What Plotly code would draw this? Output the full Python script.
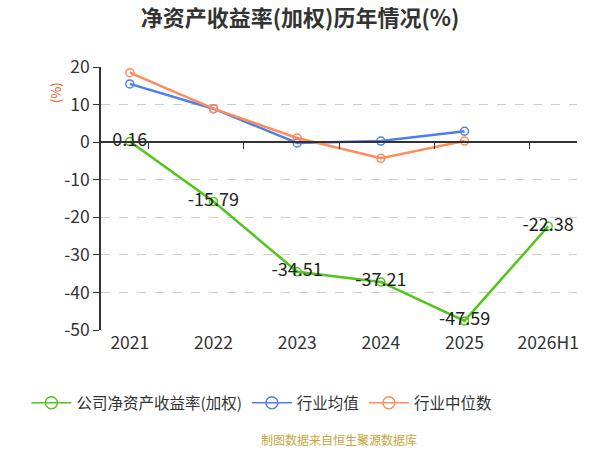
import plotly.graph_objects as go

years = ['2021', '2022', '2023', '2024', '2025', '2026H1']
roe_company = [0.16, -15.79, -34.51, -37.21, -47.59, -22.38]
roe_mean = [15.5, 8.9, -0.2, 0.3, 2.9]
roe_median = [18.5, 8.9, 1.1, -4.3, 0.3]
y_ticks = [20, 10, 0, -10, -20, -30, -40, -50]

GREEN = '#52c41a'
BLUE = '#4e7fe8'
ORANGE = '#ff8c5a'
FONT = 'Noto Sans CJK SC'

fig = go.Figure()

fig.add_trace(go.Scatter(
    x=years, y=roe_company, name='公司净资产收益率(加权)',
    mode='lines+markers+text', showlegend=False,
    line=dict(color=GREEN, width=2.5),
    marker=dict(symbol='circle-open', size=8, color=GREEN, line=dict(width=1.5)),
    text=[f'{v:.2f}' for v in roe_company],
    textposition='middle center',
    textfont=dict(size=18, color='#222222', family=FONT),
))
fig.add_trace(go.Scatter(
    x=years[:5], y=roe_mean, name='行业均值',
    mode='lines+markers', showlegend=False,
    line=dict(color=BLUE, width=2.5),
    marker=dict(symbol='circle-open', size=8, color=BLUE, line=dict(width=1.5)),
))
fig.add_trace(go.Scatter(
    x=years[:5], y=roe_median, name='行业中位数',
    mode='lines+markers', showlegend=False,
    line=dict(color=ORANGE, width=2.5),
    marker=dict(symbol='circle-open', size=8, color=ORANGE, line=dict(width=1.5)),
))

# Legendeneinträge mit größeren Kreisen
for name, color in [('公司净资产收益率(加权)', GREEN), ('行业均值', BLUE),
                    ('行业中位数', ORANGE)]:
    fig.add_trace(go.Scatter(
        x=[None], y=[None], name=name, mode='lines+markers',
        line=dict(color=color, width=1.5),
        marker=dict(symbol='circle-open', size=12, color=color, line=dict(width=1.5)),
    ))

# unsichtbare Spur für die Achse auf der Nulllinie
fig.add_trace(go.Scatter(
    x=years, y=[0] * len(years), xaxis='x2', mode='lines',
    line=dict(width=0), showlegend=False, hoverinfo='skip',
))

fig.update_layout(
    width=600, height=450,
    paper_bgcolor='white', plot_bgcolor='white',
    margin=dict(l=101, r=23, t=67, b=120),
    font=dict(family=FONT, color='#333333'),
    title=dict(text='<b>净资产收益率(加权)历年情况(%)</b>', x=0.5, xanchor='center',
               y=0.96, yanchor='middle', font=dict(size=22, color='#333333')),
    showlegend=True,
    legend=dict(orientation='h', x=0.338, xanchor='center', y=-0.278, yanchor='middle',
                font=dict(size=15.5, color='#333333'), itemwidth=40),
    xaxis=dict(type='category', showline=False, showgrid=False, ticks='',
               tickfont=dict(size=17.5, color='#333333'), zeroline=False),
    xaxis2=dict(type='category', overlaying='x', anchor='free', position=50 / 70,
                side='bottom', showline=True, linecolor='#333333', linewidth=1.5,
                ticks='outside', tickson='boundaries', ticklen=6, tickcolor='#333333',
                showticklabels=False, showgrid=False, zeroline=False),
    yaxis=dict(range=[-50, 20], tickvals=y_ticks, ticktext=[str(v) for v in y_ticks],
               showline=True, linecolor='#333333',
               linewidth=1.5, ticks='outside', ticklen=6, tickcolor='#333333',
               tickfont=dict(size=17.5, color='#333333'),
               showgrid=True, gridcolor='#cccccc', griddash='dash', gridwidth=1,
               zeroline=False),
    annotations=[
        dict(text='(%)', xref='paper', yref='paper', x=-0.0966, y=0.901, textangle=-90,
             xanchor='center', yanchor='middle', showarrow=False,
             font=dict(size=13, color='#e8541e')),
        dict(text='制图数据来自恒生聚源数据库', xref='paper', yref='paper', x=0.5,
             y=-0.418, yanchor='middle', showarrow=False,
             font=dict(size=12, color='#c9a43c')),
    ],
)

# Seitenrand entfernen, damit die Grafik bei (0,0) beginnt
fig.write_html('out.html', config={'displayModeBar': False},
               post_script="document.body.style.margin='0';")
